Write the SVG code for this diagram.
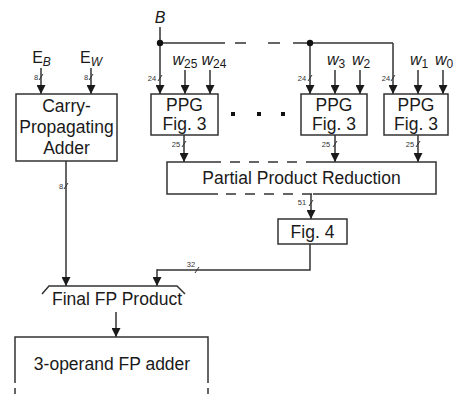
<svg xmlns="http://www.w3.org/2000/svg" width="454" height="395" viewBox="0 0 454 395">
<style>
text{font-family:"Liberation Sans",Arial,sans-serif;fill:#1a1a1a}
.t{font-size:17.5px;text-anchor:middle}
.s{font-size:7.5px;text-anchor:middle;fill:#333}
.w{font-size:16px;font-style:italic;text-anchor:middle}
.sub{font-size:12px}
.up{font-size:12px;font-style:normal}
.box{fill:#fff;stroke:#333;stroke-width:1.5}
.ln{fill:none;stroke:#333;stroke-width:1.5}
.ar{fill:none;stroke:#333;stroke-width:1.5;marker-end:url(#ah)}
.dash{fill:none;stroke:#333;stroke-width:1.5;stroke-dasharray:10 9}
.sl{fill:none;stroke:#333;stroke-width:1}
</style>
<defs>
<marker id="ah" markerWidth="9" markerHeight="9" refX="9" refY="4.5" orient="auto" markerUnits="userSpaceOnUse">
<path d="M0,0 L9,4.5 L0,9 z" fill="#1a1a1a"/>
</marker>
</defs>

<g id="connectors">
<path class="ar" d="M41,68 V94"/>
<path class="ar" d="M91,68 V94"/>
<path class="ar" d="M160,27 V94"/>
<path class="ln" d="M160,43 H225"/>
<path class="ln" d="M235,43 H246 M268,43 H280"/>
<path class="ln" d="M293,43 H393"/>
<path class="ar" d="M393,43 V94"/>
<path class="ar" d="M310,43 V94"/>
<circle cx="160" cy="43" r="3.2" fill="#111"/>
<circle cx="310" cy="43" r="3.2" fill="#111"/>
<path class="ar" d="M185,70 V94"/>
<path class="ar" d="M210,70 V94"/>
<path class="ar" d="M335,70 V94"/>
<path class="ar" d="M360,70 V94"/>
<path class="ar" d="M418,70 V94"/>
<path class="ar" d="M443,70 V94"/>
<path class="ar" d="M184,135 V162"/>
<path class="ar" d="M335,135 V162"/>
<path class="ar" d="M418,135 V162"/>
<path class="ar" d="M311,194 V219"/>
<path class="ln" d="M310,244 V270 H157"/>
<path class="ar" d="M157,269.25 V286"/>
<path class="ar" d="M66,161 V286"/>
<path class="ar" d="M116,312 V337"/>
<path class="sl" d="M39,80 L43,74"/>
<path class="sl" d="M89,80 L93,74"/>
<path class="sl" d="M158,81 L162,75"/>
<path class="sl" d="M308,81 L312,75"/>
<path class="sl" d="M391,81 L395,75"/>
<path class="sl" d="M182,147 L186,141"/>
<path class="sl" d="M333,147 L337,141"/>
<path class="sl" d="M416,147 L420,141"/>
<path class="sl" d="M309,206 L313,200"/>
<path class="sl" d="M64,189 L68,183"/>
<path class="sl" d="M195,273 L199,267"/>
<text class="s" x="36" y="80">8</text>
<text class="s" x="86" y="80">8</text>
<text class="s" x="152" y="81">24</text>
<text class="s" x="302" y="81">24</text>
<text class="s" x="386" y="81">24</text>
<text class="s" x="176" y="147">25</text>
<text class="s" x="326" y="147">25</text>
<text class="s" x="410" y="147">25</text>
<text class="s" x="302" y="205">51</text>
<text class="s" x="61" y="189">8</text>
<text class="s" x="191" y="267">32</text>
</g>

<g id="inputs">
<text x="41.5" y="63" style="font-size:16px;text-anchor:middle">E<tspan class="sub" dy="3" font-style="italic">B</tspan></text>
<text x="91" y="63" style="font-size:16px;text-anchor:middle">E<tspan class="sub" dy="3" font-style="italic">W</tspan></text>
<text x="160" y="23" style="font-size:16px;font-style:italic;text-anchor:middle">B</text>
<text class="w" x="185" y="65">w<tspan class="up" dy="3">25</tspan></text>
<text class="w" x="214" y="65">w<tspan class="up" dy="3">24</tspan></text>
<text class="w" x="336" y="65">w<tspan class="up" dy="3">3</tspan></text>
<text class="w" x="361" y="65">w<tspan class="up" dy="3">2</tspan></text>
<text class="w" x="419" y="65">w<tspan class="up" dy="3">1</tspan></text>
<text class="w" x="444" y="65">w<tspan class="up" dy="3">0</tspan></text>
</g>

<g id="cpa">
<rect class="box" x="16" y="94" width="101" height="67"/>
<text class="t" x="66.5" y="112">Carry-</text>
<text class="t" x="66.5" y="133">Propagating</text>
<text class="t" x="66.5" y="154">Adder</text>
</g>

<g id="ppg1">
<rect class="box" x="151" y="94" width="67" height="41"/>
<text class="t" x="184.5" y="111">PPG</text>
<text class="t" x="184.5" y="130">Fig. 3</text>
</g>

<g id="dots">
<rect x="231" y="112" width="4" height="4" fill="#111"/>
<rect x="257" y="112" width="4" height="4" fill="#111"/>
<rect x="281" y="112" width="4" height="4" fill="#111"/>
</g>

<g id="ppg2">
<rect class="box" x="301" y="94" width="66" height="41"/>
<text class="t" x="334" y="111">PPG</text>
<text class="t" x="334" y="130">Fig. 3</text>
</g>

<g id="ppg3">
<rect class="box" x="384" y="94" width="64" height="41"/>
<text class="t" x="416" y="111">PPG</text>
<text class="t" x="416" y="130">Fig. 3</text>
</g>

<g id="ppr">
<path class="ln" d="M221,162 H167 V194 H218"/>
<path class="ln" d="M312,162 H436 V194 H313"/>
<path class="dash" d="M230,162 H312"/>
<path class="dash" d="M226,194 H313"/>
<text class="t" x="301.5" y="184">Partial Product Reduction</text>
</g>

<g id="fig4">
<rect class="box" x="278" y="219" width="69" height="25"/>
<text class="t" x="312.5" y="238">Fig. 4</text>
</g>

<g id="final">
<path class="ln" d="M42,294 L49,286 H177 L185,294"/>
<text class="t" x="117" y="305">Final FP Product</text>
</g>

<g id="adder">
<path class="ln" d="M15,377 V337 H208 V377"/>
<path class="ln" d="M15,377 V395 M208,377 V395" style="stroke-dasharray:6 5"/>
<text class="t" x="112" y="370">3-operand FP adder</text>
</g>
</svg>
